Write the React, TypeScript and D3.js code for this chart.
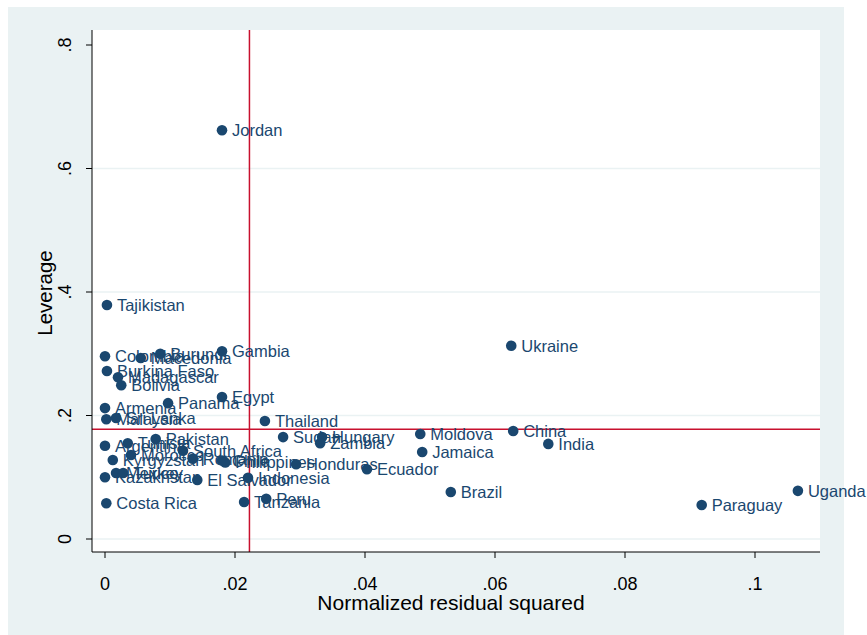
import * as d3 from "d3";

// countries and their (normalized residual squared, leverage) values
const countries = [
  "Jordan", "Tajikistan", "Colombia", "Macedonia", "Burundi", "Gambia", "Ukraine",
  "Burkina Faso", "Madagascar", "Bolivia", "Egypt", "Panama", "Armenia", "Sri Lanka",
  "Malaysia", "Thailand", "Moldova", "China", "India", "Sudan", "Hungary", "Zambia",
  "Jamaica", "Honduras", "Ecuador", "Argentina", "Tunisia", "Pakistan", "Kyrgyzstan",
  "Morocco", "Mexico", "Turkey", "Kazakhstan", "South Africa", "Romania", "Chile",
  "Philippines", "El Salvador", "Indonesia", "Tanzania", "Peru", "Costa Rica", "Brazil",
  "Paraguay", "Uganda",
];
const residSq = [
  0.0180, 0.0003, 0.0000, 0.0055, 0.0085, 0.0180, 0.0625,
  0.0003, 0.0020, 0.0025, 0.0180, 0.0097, 0.0000, 0.0017,
  0.0002, 0.0246, 0.0485, 0.0628, 0.0682, 0.0274, 0.0334, 0.0331,
  0.0488, 0.0294, 0.0403, 0.0000, 0.0035, 0.0078, 0.0012,
  0.0040, 0.0017, 0.0028, 0.0000, 0.0120, 0.0135, 0.0180,
  0.0185, 0.0142, 0.0220, 0.0214, 0.0248, 0.0002, 0.0532,
  0.0918, 0.1066,
];
const leverage = [
  0.662, 0.379, 0.296, 0.293, 0.300, 0.304, 0.313,
  0.272, 0.262, 0.249, 0.230, 0.220, 0.212, 0.196,
  0.194, 0.191, 0.170, 0.175, 0.154, 0.165, 0.165, 0.155,
  0.141, 0.121, 0.113, 0.151, 0.155, 0.162, 0.128,
  0.136, 0.107, 0.107, 0.100, 0.143, 0.130, 0.127,
  0.124, 0.0955, 0.099, 0.060, 0.065, 0.058, 0.076,
  0.055, 0.078,
];
const xTicks = [0, 0.02, 0.04, 0.06, 0.08, 0.1];
const xTickLabels = ["0", ".02", ".04", ".06", ".08", ".1"];
const yTicks = [0, 0.2, 0.4, 0.6, 0.8];
const yTickLabels = ["0", ".2", ".4", ".6", ".8"];
const meanResid = 1 / 45;
const meanLeverage = 8 / 45;

const W = 867;
const H = 635;
const navy = "#1a476f";
const bg = "#eaf2f3";
const font = "'Liberation Sans', Arial, sans-serif";

export default function App() {
  const plot = { left: 92, right: 820, top: 30, bottom: 552 };
  const x = d3.scaleLinear().domain([-0.002, 0.11]).range([plot.left, plot.right]);
  const y = d3.scaleLinear().domain([0, 0.8]).range([539, 45]);

  const points = countries.map((name, i) => ({ name, rx: residSq[i], lev: leverage[i] }));

  return (
    <svg width={W} height={H} style={{ position: "absolute", left: 0, top: 0 }} fontFamily={font}>
      <rect x={0} y={0} width={W} height={H} fill="#fff" />
      <rect x={8} y={7} width={836} height={H - 7} fill={bg} />
      <rect x={plot.left} y={plot.top} width={plot.right - plot.left} height={plot.bottom - plot.top} fill="#fff" />

      {/* gridlines */}
      {yTicks.slice(0, -1).map((t) => (
        <line key={"g" + t} x1={plot.left} x2={plot.right} y1={y(t)} y2={y(t)} stroke={bg} strokeWidth={1.5} />
      ))}

      {/* reference lines at the means */}
      <line x1={x(meanResid)} x2={x(meanResid)} y1={plot.top} y2={plot.bottom} stroke="#c8102e" strokeWidth={1.5} />
      <line x1={plot.left} x2={plot.right} y1={y(meanLeverage)} y2={y(meanLeverage)} stroke="#c8102e" strokeWidth={1.5} />

      {/* points */}
      {points.map((p) => (
        <g key={p.name}>
          <circle cx={x(p.rx)} cy={y(p.lev)} r={5.3} fill={navy} />
          <text x={x(p.rx) + 10} y={y(p.lev) + 6} fill={navy} fontSize={16.5}>
            {p.name}
          </text>
        </g>
      ))}

      {/* axes */}
      <line x1={plot.left} x2={plot.left} y1={plot.top} y2={plot.bottom} stroke="#000" />
      <line x1={plot.left} x2={plot.right} y1={plot.bottom} y2={plot.bottom} stroke="#000" />
      {yTicks.map((t, i) => (
        <g key={"y" + t}>
          <line x1={plot.left - 6} x2={plot.left} y1={y(t)} y2={y(t)} stroke="#000" />
          <text transform={`translate(71,${y(t)}) rotate(-90)`} textAnchor="middle" fontSize={18}>
            {yTickLabels[i]}
          </text>
        </g>
      ))}
      {xTicks.map((t, i) => (
        <g key={"x" + t}>
          <line x1={x(t)} x2={x(t)} y1={plot.bottom} y2={plot.bottom + 6} stroke="#000" />
          <text x={x(t)} y={590} textAnchor="middle" fontSize={18}>
            {xTickLabels[i]}
          </text>
        </g>
      ))}
      <text transform={`translate(52,293) rotate(-90)`} textAnchor="middle" fontSize={20.5}>
        Leverage
      </text>
      <text x={451} y={610} textAnchor="middle" fontSize={21}>
        Normalized residual squared
      </text>
    </svg>
  );
}
